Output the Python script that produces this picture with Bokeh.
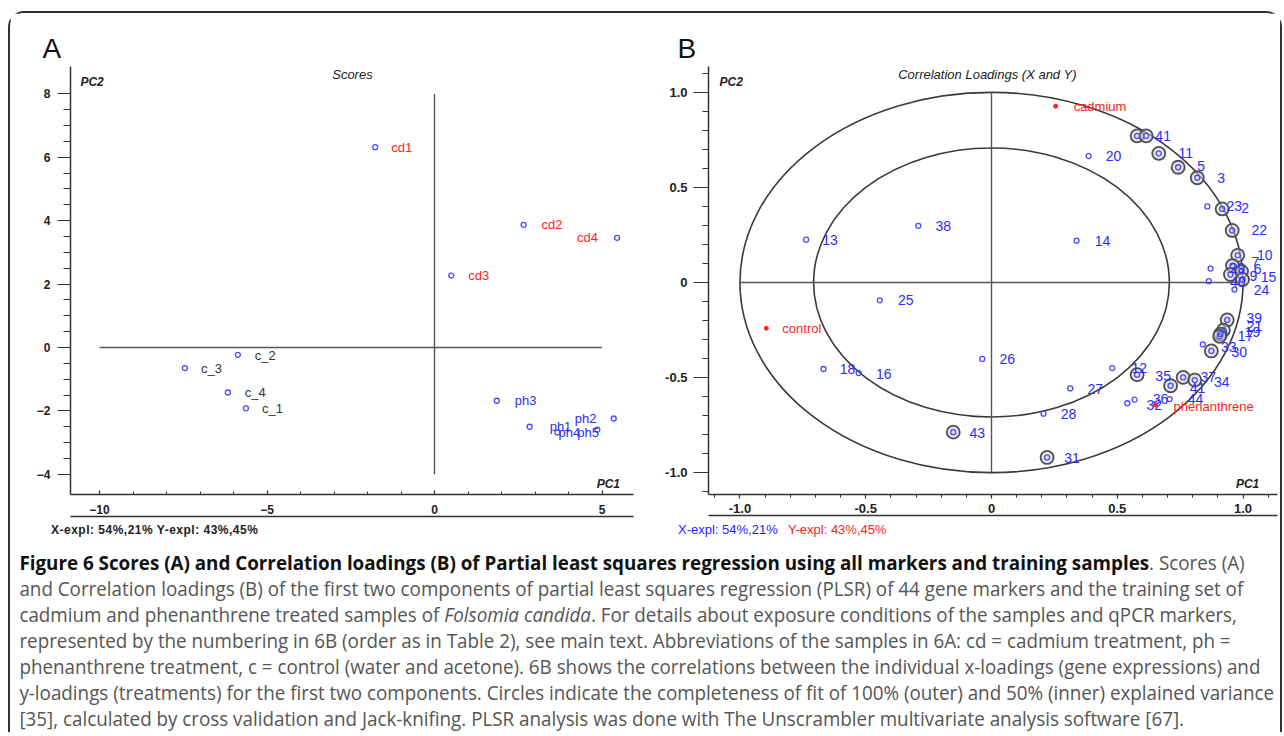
import numpy as np
from bokeh.plotting import figure
from bokeh.models import ColumnDataSource, FixedTicker, LinearAxis, Label, Div, Range1d, Spacer
from bokeh.layouts import row, column
from bokeh.embed import file_html
from bokeh.resources import INLINE
from bokeh.core.properties import value

# ---------------- Panel A: PLSR scores ----------------
score_names = ["cd1", "cd2", "cd3", "cd4", "c_1", "c_2", "c_3", "c_4", "ph1", "ph2", "ph3", "ph4", "ph5"]
score_pc1 = [-1.77, 2.66, 0.50, 5.45, -5.63, -5.87, -7.45, -6.17, 2.84, 5.35, 1.86, 3.67, 4.86]
score_pc2 = [6.32, 3.87, 2.27, 3.46, -1.92, -0.23, -0.65, -1.42, -2.50, -2.24, -1.68, -2.68, -2.59]
score_group = ["cd"] * 4 + ["c"] * 4 + ["ph"] * 5
score_label_dx = [16, 18, 17, -40, 16, 17, 16, 17, 20, -39, 18, 1, -20]
score_label_dy = [0, 0, 0, 0, 0, 1, 0, 0, 0, 0, 0, 0, 3]

a_xticks = [-10, -5, 0, 5]
a_yticks = [-4, -2, 0, 2, 4, 6, 8]

# ---------------- Panel B: correlation loadings ----------------
marker_names = ["13", "38", "25", "18", "16", "26", "27", "28", "43", "31", "20", "14",
                "4", "1", "11", "5", "3", "23", "2", "22", "10", "29", "40", "7", "9", "6",
                "15", "24", "39", "21", "19", "17", "33", "30", "12", "35", "41", "37", "34",
                "32", "36", "44"]
marker_pc1 = [-0.737, -0.291, -0.444, -0.668, -0.528, -0.037, 0.313, 0.207, -0.152, 0.221, 0.386, 0.338,
              0.579, 0.615, 0.665, 0.742, 0.818, 0.858, 0.917, 0.957, 0.979, 0.871, 0.864, 0.958, 0.950, 0.994,
              0.998, 0.966, 0.937, 0.922, 0.910, 0.907, 0.840, 0.874, 0.480, 0.579, 0.712, 0.762, 0.808,
              0.540, 0.569, 0.708]
marker_pc2 = [0.225, 0.298, -0.094, -0.455, -0.476, -0.402, -0.557, -0.690, -0.787, -0.920, 0.665, 0.220,
              0.771, 0.771, 0.679, 0.606, 0.551, 0.400, 0.387, 0.274, 0.143, 0.073, 0.007, 0.089, 0.042, 0.058,
              0.016, -0.037, -0.197, -0.251, -0.272, -0.283, -0.325, -0.360, -0.450, -0.485, -0.543, -0.499, -0.513,
              -0.635, -0.616, -0.613]
marker_significant = [0, 0, 0, 0, 0, 0, 0, 0, 1, 1, 0, 0,
                      1, 1, 1, 1, 1, 0, 1, 1, 1, 0, 0, 1, 1, 1,
                      1, 0, 1, 1, 1, 1, 0, 1, 0, 1, 1, 1, 1,
                      0, 0, 0]
marker_label_dx = [24, 25, 26, 24, 25, 25, 25, 25, 24, 25, 25, 26,
                   22, 21, 27, 23, 24, 27, 23, 27, 27, 27, 29, 23, 23, 16,
                   26, 27, 27, 31, 32, 26, 26, 28, 27, 26, 27, 25, 27,
                   27, 26, 26]
marker_label_dy = [0, 0, 0, 0, 1, 0, 1, 0, 1, 1, 0, 0,
                   0, 0, 0, -1, 0, 0, -1, 0, 0, -1, 1, -4, 1, -2,
                   -2, 0, -2, -4, -2, 0, 3, 1, 0, 1, 2, 0, 2,
                   2, -1, 0]

resp_names = ["cadmium", "control", "phenanthrene"]
resp_pc1 = [0.255, -0.895, 0.652]
resp_pc2 = [0.927, -0.241, -0.644]
resp_label_dx = [18, 16, 18]
resp_label_dy = [0, 0, 2]

fit_levels = [1.0, 0.5]          # explained variance: outer 100 %, inner 50 %
b_ticks = [-1.0, -0.5, 0.0, 0.5, 1.0]

BLUE_PT = "#4a4aff"
BLUE_TX = "#2b2bff"
RED = "#ff2222"
AX = "#333333"
FONT = "Liberation Sans"


def style_axis(ax, tick_out, tick_in, minor_out, minor_in, standoff, size="12px"):
    ax.axis_line_color = AX
    ax.axis_line_width = 1.5
    ax.major_tick_line_color = AX
    ax.minor_tick_line_color = AX
    ax.major_tick_line_width = 1.2
    ax.minor_tick_line_width = 1.0
    ax.major_tick_out = tick_out
    ax.major_tick_in = tick_in
    ax.minor_tick_out = minor_out
    ax.minor_tick_in = minor_in
    ax.major_label_standoff = standoff
    ax.major_label_text_font = FONT
    ax.major_label_text_font_style = "bold"
    ax.major_label_text_font_size = size
    ax.major_label_text_color = "#222222"


def add_label(p, x, y, text, size="13px", style="normal", color="#222222", align="left", font=FONT):
    p.add_layout(Label(x=x, y=y, text=text, text_font=font, text_font_size=size, text_font_style=style,
                       text_color=color, text_align=align, text_baseline="middle"))


def bottom_rule(p):
    ax2 = LinearAxis(ticker=FixedTicker(ticks=[]), major_label_text_font_size="0px",
                     major_tick_line_color=None, minor_tick_line_color=None,
                     axis_line_color=AX, axis_line_width=1.5, major_label_standoff=0,
                     major_tick_out=0, minor_tick_out=0)
    p.add_layout(ax2, "below")


def panel_letter(p, letter, offset):
    p.title.text = letter
    p.title.align = "left"
    p.title.offset = offset
    p.title.standoff = 6
    p.title.text_font = FONT
    p.title.text_font_size = "28px"
    p.title.text_font_style = "normal"
    p.title.text_color = "#111111"


FIG_H = 509

# ================= Figure A =================
pA = figure(width=644, height=FIG_H, x_range=Range1d(-10.866, 5.94), y_range=Range1d(-4.637, 8.864),
            min_border_left=60, min_border_right=21, min_border_top=53, min_border_bottom=28,
            output_backend="svg", toolbar_location=None, outline_line_color=None)
pA.grid.visible = False
pA.xaxis[0].ticker = FixedTicker(ticks=a_xticks, minor_ticks=list(range(a_xticks[0] - 1, a_xticks[-1] + 1)))
pA.yaxis[0].ticker = FixedTicker(ticks=a_yticks, minor_ticks=list(np.arange(a_yticks[0], a_yticks[-1] + 0.5, 0.5)))
style_axis(pA.xaxis[0], 0, 4, 0, 3, 10)
style_axis(pA.yaxis[0], 13, 0, 7, 0, 7)
bottom_rule(pA)
panel_letter(pA, "A", -28)

pA.segment(x0=[a_xticks[0], 0], y0=[0, a_yticks[0]], x1=[a_xticks[-1], 0], y1=[0, a_yticks[-1]],
           line_color="#555555", line_width=1.4)

colA = {"cd": RED, "c": "#333333", "ph": BLUE_TX}
srcA = ColumnDataSource(dict(x=score_pc1, y=score_pc2, name=score_names,
                             color=[colA[g] for g in score_group],
                             dx=score_label_dx, dy=score_label_dy))
pA.scatter("x", "y", source=srcA, size=5, fill_color=None, line_color=BLUE_PT, line_width=1.3)
pA.text("x", "y", text="name", source=srcA, x_offset="dx", y_offset="dy", text_color="color",
        text_font=value(FONT), text_font_size="13px", text_baseline="middle", text_align="left")

add_label(pA, -2.45, 8.612, "Scores", size="13px", style="italic", align="center")
add_label(pA, -10.57, 8.36, "PC2", size="12px", style="bold italic")
add_label(pA, 5.19, -4.32, "PC1", size="12px", style="bold italic", align="center")

# ================= Figure B =================
pB = figure(width=626, height=FIG_H, x_range=Range1d(-1.125, 1.137), y_range=Range1d(-1.115, 1.136),
            min_border_left=54, min_border_right=3, min_border_top=53, min_border_bottom=26,
            output_backend="svg", toolbar_location=None, outline_line_color=None)
pB.grid.visible = False
minorB = [round(v, 2) for v in np.arange(-1.1, 1.11, 0.1)]
pB.xaxis[0].ticker = FixedTicker(ticks=b_ticks, minor_ticks=minorB)
pB.yaxis[0].ticker = FixedTicker(ticks=b_ticks, minor_ticks=minorB)
overrides = {-1.0: "-1.0", -0.5: "-0.5", 0.0: "0", 0.5: "0.5", 1.0: "1.0"}
pB.xaxis[0].major_label_overrides = overrides
pB.yaxis[0].major_label_overrides = overrides
style_axis(pB.xaxis[0], 4, 0, 3, 0, 5, size="13px")
style_axis(pB.yaxis[0], 15, 0, 6, 0, 6, size="13px")
bottom_rule(pB)
panel_letter(pB, "B", -31)

radii = [np.sqrt(f) for f in fit_levels]
pB.ellipse(x=[0, 0], y=[0, 0], width=[2 * r for r in radii], height=[2 * r for r in radii],
           fill_color=None, line_color="#3a3a3a", line_width=1.6)
pB.segment(x0=[b_ticks[0], 0], y0=[0, b_ticks[0]], x1=[b_ticks[-1], 0], y1=[0, b_ticks[-1]],
           line_color="#555555", line_width=1.4)

srcB = ColumnDataSource(dict(x=marker_pc1, y=marker_pc2, name=marker_names,
                             sig=marker_significant, dx=marker_label_dx, dy=marker_label_dy))
sig_x = [x for x, s in zip(marker_pc1, marker_significant) if s]
sig_y = [y for y, s in zip(marker_pc2, marker_significant) if s]
pB.scatter(sig_x, sig_y, size=13, fill_color="#d0d0d0", fill_alpha=0.55, line_color="#505050", line_width=1.8)
pB.scatter("x", "y", source=srcB, size=5, fill_color=None, line_color=BLUE_PT, line_width=1.3)
pB.text("x", "y", text="name", source=srcB, x_offset="dx", y_offset="dy", text_color=BLUE_TX,
        text_font=value(FONT), text_font_size="14px", text_baseline="middle", text_align="center")

srcR = ColumnDataSource(dict(x=resp_pc1, y=resp_pc2, name=resp_names, dx=resp_label_dx, dy=resp_label_dy))
pB.scatter("x", "y", source=srcR, size=4, fill_color=RED, line_color=RED)
pB.text("x", "y", text="name", source=srcR, x_offset="dx", y_offset="dy", text_color=RED,
        text_font=value(FONT), text_font_size="13px", text_baseline="middle", text_align="left")

add_label(pB, -0.016, 1.094, "Correlation Loadings (X and Y)", size="13px", style="italic", align="center")
add_label(pB, -1.081, 1.052, "PC2", size="12px", style="bold italic")
add_label(pB, 1.018, -1.058, "PC1", size="12px", style="bold italic", align="center")

# ============ explained-variance lines under the panels ============
explA = Div(text='<div style="font-family:\'Liberation Sans\';font-size:12px;font-weight:bold;color:#222;'
                 'letter-spacing:0.5px;line-height:12px;padding-left:41px;white-space:nowrap;">'
                 'X-expl: 54%,21% Y-expl: 43%,45%</div>',
            width=644, height=12, margin=0)
explB = Div(text='<div style="font-family:\'Liberation Sans\';font-size:13px;line-height:12px;'
                 'padding-left:24px;white-space:nowrap;">'
                 '<span style="display:inline-block;width:110px;color:#2222ff">X-expl: 54%,21%</span>'
                 '<span style="color:#ff2222">Y-expl: 43%,45%</span></div>',
            width=626, height=12, margin=0)

# ================= Caption =================
cap_lines = [
    '<b style="color:#111">Figure 6 Scores (A) and Correlation loadings (B) of Partial least squares regression using all markers and training samples</b>. Scores (A)',
    'and Correlation loadings (B) of the first two components of partial least squares regression (PLSR) of 44 gene markers and the training set of',
    'cadmium and phenanthrene treated samples of <i>Folsomia candida</i>. For details about exposure conditions of the samples and qPCR markers,',
    'represented by the numbering in 6B (order as in Table 2), see main text. Abbreviations of the samples in 6A: cd = cadmium treatment, ph =',
    'phenanthrene treatment, c = control (water and acetone). 6B shows the correlations between the individual x-loadings (gene expressions) and',
    'y-loadings (treatments) for the first two components. Circles indicate the completeness of fit of 100% (outer) and 50% (inner) explained variance',
    '[35], calculated by cross validation and Jack-knifing. PLSR analysis was done with The Unscrambler multivariate analysis software [67].',
]
cap_html = ('<div style="font-family:\'Open Sans\';font-size:20px;line-height:26px;color:#555555;'
            'white-space:nowrap;transform:scaleX(0.94);transform-origin:0 0;padding-top:16px;padding-left:10px;">'
            + '<br>'.join(cap_lines) + '</div>')
cap = Div(text=cap_html, width=1270, height=198, margin=0)

box = column(row(pA, pB), row(explA, explB), cap,
             styles={"border": "2px solid #333", "border-bottom": "none",
                     "border-radius": "16px 16px 0 0", "background": "white"})
layout = column(Spacer(height=11), row(Spacer(width=8), box))

open("out.html", "w").write(file_html(layout, INLINE))
